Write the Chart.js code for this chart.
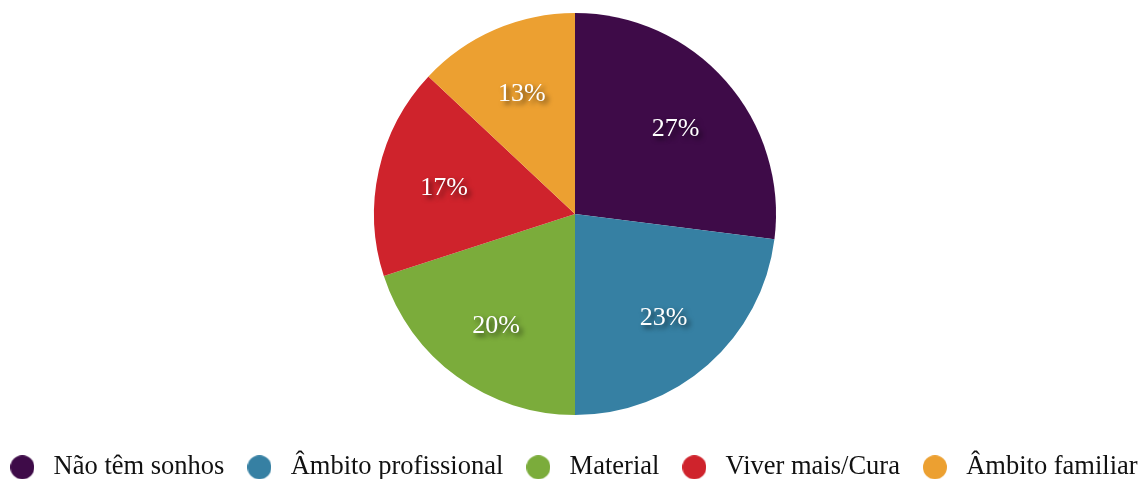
<!DOCTYPE html>
<html>
<head>
<meta charset="utf-8">
<script src="https://cdn.jsdelivr.net/npm/chart.js@4"></script>
<style>
  html, body { margin: 0; padding: 0; background: #fff; }
  #wrap { width: 1142px; height: 479px; }
</style>
</head>
<body>
<div id="wrap"><canvas id="pieChart"></canvas></div>
<script>
var labels = ["Não têm sonhos", "Âmbito profissional", "Material", "Viver mais/Cura", "Âmbito familiar"];
var values = [27, 23, 20, 17, 13];
var colors = ["#3e0b48", "#3680a3", "#7bac3b", "#cf232c", "#eca031"];

var FONT = "'Liberation Serif', 'Times New Roman', serif";

// round legend dots drawn on small canvases
var dots = colors.map(function (c) {
    var cv = document.createElement('canvas');
    cv.width = 24; cv.height = 24;
    var g = cv.getContext('2d');
    g.fillStyle = c;
    g.beginPath();
    g.arc(12, 12, 12, 0, Math.PI * 2);
    g.fill();
    return cv;
});

// percent text inside each slice
var sliceLabels = {
    id: 'sliceLabels',
    afterDatasetsDraw: function (chart) {
        var ctx = chart.ctx;
        var meta = chart.getDatasetMeta(0);
        var total = values.reduce(function (a, b) { return a + b; }, 0);
        ctx.save();
        ctx.font = '26px ' + FONT;
        ctx.fillStyle = '#ffffff';
        ctx.textAlign = 'center';
        ctx.textBaseline = 'middle';
        ctx.shadowColor = 'rgba(0,0,0,0.65)';
        ctx.shadowBlur = 5;
        ctx.shadowOffsetX = 3;
        ctx.shadowOffsetY = 3;
        meta.data.forEach(function (arc, i) {
            var p = arc.getProps(['x', 'y', 'startAngle', 'endAngle', 'outerRadius'], true);
            var mid = (p.startAngle + p.endAngle) / 2;
            var r = p.outerRadius * 0.667;
            var pct = Math.round(values[i] / total * 100) + '%';
            ctx.fillText(pct, p.x + Math.cos(mid) * r, p.y + Math.sin(mid) * r + 3.5);
        });
        ctx.restore();
    }
};

// keep the legend on one row, edge to edge, in a fixed band below the pie
var legendBand = {
    id: 'legendBand',
    beforeInit: function (chart) {
        var lg = chart.legend;
        var fit = lg.fit;
        lg.fit = function () {
            var avail = this.maxWidth;
            this.maxWidth = 1400;
            fit.call(this);
            this.maxWidth = avail;
            this.width = avail;
            this.height = 64;
        };
    },
    afterLayout: function (chart) {
        chart.legend.left = -18;
        chart.legend.right = 1160;
    }
};

new Chart("pieChart", {
    type: "pie",
    data: {
        labels: labels,
        datasets: [{
            data: values,
            backgroundColor: colors,
            borderWidth: 0
        }]
    },
    plugins: [sliceLabels, legendBand],
    options: {
        responsive: true,
        maintainAspectRatio: false,
        animation: false,
        layout: { padding: { top: 13, left: 8, bottom: 0 } },
        plugins: {
            tooltip: { enabled: false },
            legend: {
                position: 'bottom',
                title: {
                    display: true,
                    text: '',
                    padding: 0,
                    font: { size: 10, lineHeight: 2.2 }
                },
                labels: {
                    font: { family: FONT, size: 26.5 },
                    color: '#111111',
                    usePointStyle: true,
                    pointStyleWidth: 36,
                    boxHeight: 24,
                    padding: 17,
                    generateLabels: function () {
                        return labels.map(function (text, i) {
                            return {
                                text: text,
                                fillStyle: colors[i],
                                strokeStyle: colors[i],
                                lineWidth: 0,
                                pointStyle: dots[i],
                                hidden: false,
                                index: i,
                                fontColor: '#111111'
                            };
                        });
                    }
                }
            }
        }
    }
});
</script>
</body>
</html>
